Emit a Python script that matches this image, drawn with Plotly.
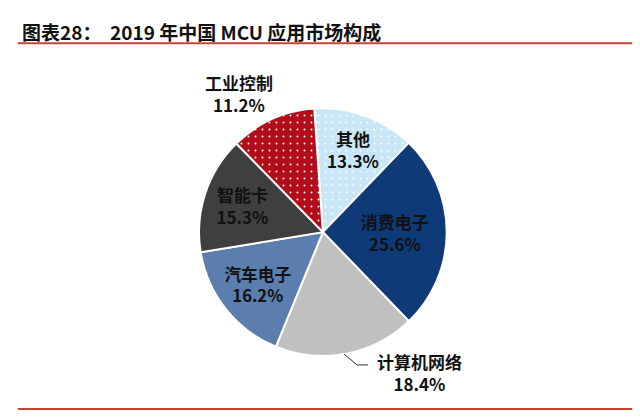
import plotly.graph_objects as go

labels = ["其他", "消费电子", "计算机网络", "汽车电子", "智能卡", "工业控制"]
shares = [13.3, 25.6, 18.4, 16.2, 15.3, 11.2]
colors = ["#C9E6F7", "#0E3A78", "#C0C0C0", "#5B7EAE", "#3F3F3F", "#B20D1B"]
patterns = [".", "", "", "", "", "."]
outside = ["计算机网络", "工业控制"]

title_text = "图表28：  2019 年中国 MCU 应用市场构成"
font_cn = "Noto Sans CJK SC"

templates = ["" if lab in outside else "<b>%{label}</b><br><b>%{value:.1f}%</b>" for lab in labels]

fig = go.Figure(go.Pie(
    labels=labels,
    values=shares,
    sort=False,
    direction="clockwise",
    rotation=-4,
    texttemplate=templates,
    textposition="inside",
    insidetextorientation="horizontal",
    textfont=dict(family=font_cn, size=17, color="#111111"),
    marker=dict(
        colors=colors,
        line=dict(color="white", width=2),
        pattern=dict(shape=patterns, fgcolor="white", bgcolor=colors,
                     size=7, solidity=0.06),
    ),
    domain=dict(x=[0.311, 0.698], y=[0.150, 0.742]),
    hoverinfo="label+percent",
    showlegend=False,
))

# outside labels
pos = {"工业控制": (0.373, 0.777), "计算机网络": (0.655, 0.110)}
annos = []
for lab, v in zip(labels, shares):
    if lab in pos:
        x, y = pos[lab]
        annos.append(dict(
            x=x, y=y, xref="paper", yref="paper", showarrow=False,
            xanchor="center", yanchor="middle",
            text=f"<b>{lab}</b><br><b>{v:.1f}%</b>",
            font=dict(family=font_cn, size=17, color="#111111"),
            align="center",
        ))

annos.append(dict(
    x=0.031, y=0.924, xref="paper", yref="paper", xanchor="left",
    yanchor="middle", showarrow=False,
    text=f"<b>{title_text}</b>",
    font=dict(family=font_cn, size=19, color="#111111"),
))

fig.update_layout(
    width=640,
    height=419,
    margin=dict(l=0, r=0, t=0, b=0),
    paper_bgcolor="white",
    plot_bgcolor="white",
    annotations=annos,
    shapes=[
        dict(type="line", xref="paper", yref="paper", x0=0.028, x1=0.988,
             y0=0.897, y1=0.897, line=dict(color="#C4452F", width=2)),
        dict(type="line", xref="paper", yref="paper", x0=0.028, x1=0.988,
             y0=0.024, y1=0.024, line=dict(color="#C4452F", width=2)),
        # leader line for 计算机网络
        dict(type="path", xref="paper", yref="paper",
             path="M 0.5375,0.155 L 0.558,0.129 L 0.575,0.129",
             line=dict(color="#333333", width=1)),
    ],
)

fig.write_html("out.html", config={"displayModeBar": False},
               post_script="document.body.style.margin='0';")
